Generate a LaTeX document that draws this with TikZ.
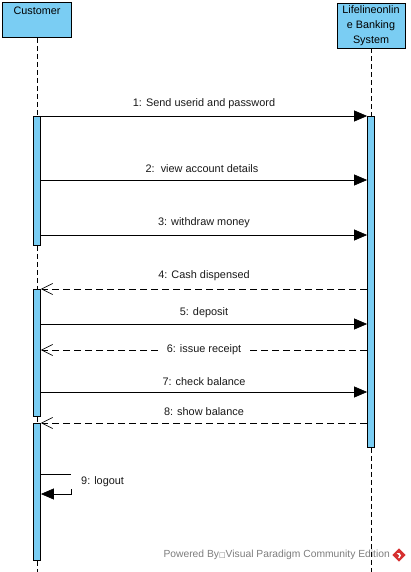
\documentclass[tikz,border=0pt]{standalone}
\usepackage{fontspec}
\setmainfont{Liberation Sans}
\newfontfamily\dejavu{DejaVu Sans}
\usetikzlibrary{arrows.meta}
\definecolor{vpblue}{RGB}{122,205,243}
\definecolor{wmgray}{RGB}{125,125,125}
\definecolor{vpred}{RGB}{214,48,49}
\begin{document}
\begin{tikzpicture}[x=1pt,y=-1pt,
  head/.style={draw=black, fill=vpblue, line width=0.8pt, align=center,
    font=\fontsize{10.8}{15}\selectfont, inner sep=0pt},
  lifeline/.style={dash pattern=on 5pt off 3pt, line width=0.7pt},
  act/.style={draw=black, fill=vpblue, line width=0.8pt, minimum width=7pt, inner sep=0pt, anchor=north},
  msg/.style={-{Triangle[length=13pt,width=11pt]}, line width=0.7pt},
  ret/.style={-{Straight Barb[length=11pt,width=11pt,line width=0.7pt]}, dash pattern=on 7pt off 4pt, line width=0.7pt},
  lbl/.style={font=\fontsize{10.9}{12}\selectfont, text=black!90, inner sep=1pt},
  wm/.style={font=\fontsize{10.3}{12}\selectfont, text=wmgray, inner sep=0pt}
]
\useasboundingbox (0,0) rectangle (410,572);

% heads
\node[head, minimum width=69pt, minimum height=35pt] (cust) at (37,20) {};
\node[font=\fontsize{10.8}{15}\selectfont, inner sep=0pt] (custtxt) at (37,11) {Customer};
\node[head, minimum width=68pt, minimum height=45pt] (sys) at (371,25.5) {Lifelineonlin\\e Banking\\System};

% activations
\node[act, minimum height=129pt] (c1) at (37,116) {};
\node[act, minimum height=127pt] (c2) at (37,289) {};
\node[act, minimum height=137pt] (c3) at (37,423) {};
\node[act, minimum height=331pt] (s1) at (371,116) {};

% watermark
\node[wm, anchor=east] (wmtext) at (390,555) {Powered By{\dejavu\fontsize{7}{8}\selectfont □}Visual Paradigm Community Edition};
\node[fill=vpred, rotate=45, minimum size=9.5pt, inner sep=0pt] (logo) at (399,555) {};
\fill[white] (396.5,553) -- (399.5,553) -- (401,555.5) -- (399.5,558) -- (398,558) -- (399.3,555.5) -- cycle;

% lifelines
\coordinate (cbot) at (37,572);
\coordinate (sbot) at (371,572);
\draw[lifeline] (cust.south) -- (c1.north);
\draw[lifeline] (c1.south) -- (c2.north);
\draw[lifeline] (c2.south) -- (c3.north);
\draw[lifeline] (c3.south) -- (cbot);
\draw[lifeline] (sys.south) -- (s1.north);
\draw[lifeline] (s1.south) -- (sbot);

% message levels
\coordinate (y1) at (0,116);
\coordinate (y2) at (0,180);
\coordinate (y3) at (0,235);
\coordinate (y4) at (0,289);
\coordinate (y5) at (0,324);
\coordinate (y6) at (0,350);
\coordinate (y7) at (0,392);
\coordinate (y8) at (0,423);
\coordinate (y9a) at (0,474);
\coordinate (y9b) at (0,489);
\coordinate (y9c) at (0,494);
\coordinate (x9) at (71,0);

\draw[msg] (c1.east |- y1) -- node[lbl, above=6pt] (l1) {1: Send userid and password} (s1.west |- y1);
\draw[msg] (c1.east |- y2) -- node[lbl, above=6pt, xshift=-2pt] (l2) {2:\ \ view account details} (s1.west |- y2);
\draw[msg] (c1.east |- y3) -- node[lbl, above=6pt] (l3) {3: withdraw money} (s1.west |- y3);
\draw[ret] (s1.west |- y4) -- node[lbl, above=7pt] (l4) {4: Cash dispensed} (c2.east |- y4);
\draw[msg] (c2.east |- y5) -- node[lbl, above=5pt] (l5) {5: deposit} (s1.west |- y5);
\draw[ret] (s1.west |- y6) -- node[lbl, fill=white, inner xsep=8pt, inner ysep=2pt] (l6) {6: issue receipt} (c2.east |- y6);
\draw[msg] (c2.east |- y7) -- node[lbl, above=5pt] (l7) {7: check balance} (s1.west |- y7);
\draw[ret] (s1.west |- y8) -- node[lbl, above=6pt] (l8) {8: show balance} (c3.east |- y8);

% self message
\draw[line width=0.7pt] (c3.east |- y9a) -- (x9 |- y9a);
\draw[msg] (x9 |- y9b) -- (x9 |- y9c) -- (c3.east |- y9c);
\node[lbl, anchor=west] (l9) at (80,482) {9: logout};
\end{tikzpicture}
\end{document}
